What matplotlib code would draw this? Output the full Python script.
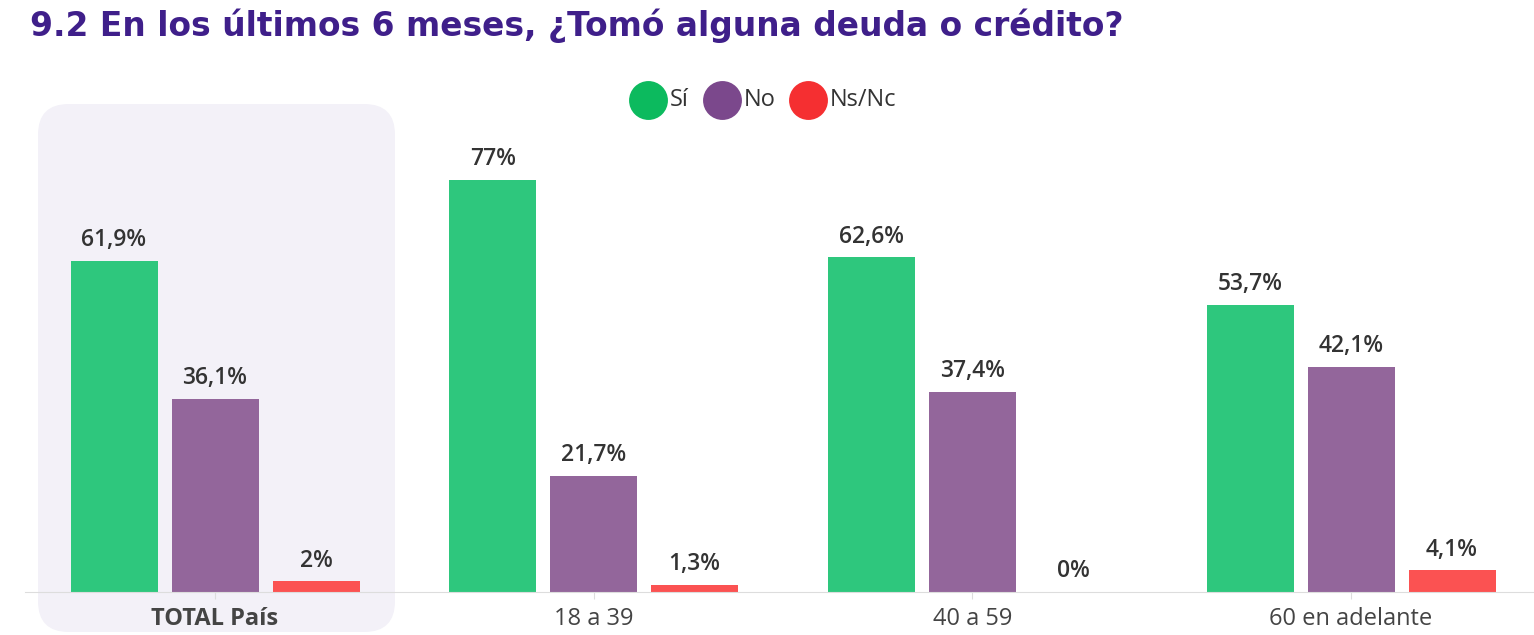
import numpy as np
import matplotlib.pyplot as plt
from matplotlib.patches import FancyBboxPatch
from matplotlib.lines import Line2D

plt.rcParams['font.family'] = ['Open Sans', 'DejaVu Sans']

# datos
grupos = ["TOTAL País", "18 a 39", "40 a 59", "60 en adelante"]
series = ["Sí", "No", "Ns/Nc"]
si = [61.9, 77.0, 62.6, 53.7]
no = [36.1, 21.7, 37.4, 42.1]
nsnc = [2.0, 1.3, 0.0, 4.1]
etiquetas = [["61,9%", "77%", "62,6%", "53,7%"],
             ["36,1%", "21,7%", "37,4%", "42,1%"],
             ["2%", "1,3%", "0%", "4,1%"]]

colores = ["#2ec77d", "#93669b", "#fb5252"]
colores_ley = ["#0cba5e", "#7b488c", "#f52f31"]

W, H = 1534, 635
fig = plt.figure(figsize=(W / 100, H / 100), dpi=100)

# caja gris del total
caja = FancyBboxPatch((38 / W, 3 / H), (395 - 38) / W, (632 - 104) / H,
                      boxstyle="round,pad=0,rounding_size=0.02",
                      transform=fig.transFigure, facecolor="#f3f1f8",
                      edgecolor="none", zorder=-1, mutation_aspect=W / H)
fig.patches.append(caja)

base = 592
paso = 378.7
px_pct = 5.35
ax = fig.add_axes([0, (H - base) / H, 1, (base - 125) / H])
ax.patch.set_alpha(0)
ax.set_xlim(-215 / paso, (W - 215) / paso)
ax.set_ylim(0, (base - 125) / px_pct)

x = np.arange(len(grupos))
ancho = 87 / paso
desp = 101 / paso
for i, (vals, col) in enumerate(zip([si, no, nsnc], colores)):
    pos = x + (i - 1) * desp
    ax.bar(pos, vals, width=ancho, color=col, zorder=2)
    for p, v, t in zip(pos, vals, etiquetas[i]):
        ax.text(p, v + 1.6, t, ha="center", va="bottom", fontsize=16.5,
                fontweight="semibold", color="#333333")

for s in ["top", "right", "left"]:
    ax.spines[s].set_visible(False)
ax.spines["bottom"].set_color("#dddddd")
ax.spines["bottom"].set_bounds(-190 / paso, (W - 215) / paso)
ax.set_yticks([])
ax.set_xticks(x)
ax.set_xticklabels(grupos, fontsize=17, color="#444444")
ax.tick_params(axis="x", length=5, color="#dddddd", pad=6)
ax.get_xticklabels()[0].set_fontweight("bold")

fig.text(30 / W, 1 - 26 / H, "9.2 En los últimos 6 meses, ¿Tomó alguna deuda o crédito?",
         fontsize=23.7, fontweight="bold", color="#3f1f8a", va="center", ha="left",
         family="DejaVu Sans")

# leyenda a mano
ley_x = [648, 722, 808]
for cx, c, nombre in zip(ley_x, colores_ley, series):
    fig.add_artist(Line2D([cx / W], [1 - 100 / H], transform=fig.transFigure,
                          marker="o", markersize=28, linestyle="none",
                          markerfacecolor=c, markeredgecolor="none"))
    fig.text((cx + 22) / W, 1 - 100 / H, nombre, fontsize=17, color="#333333",
             va="center", ha="left")

fig.savefig("out.png", dpi=100)
